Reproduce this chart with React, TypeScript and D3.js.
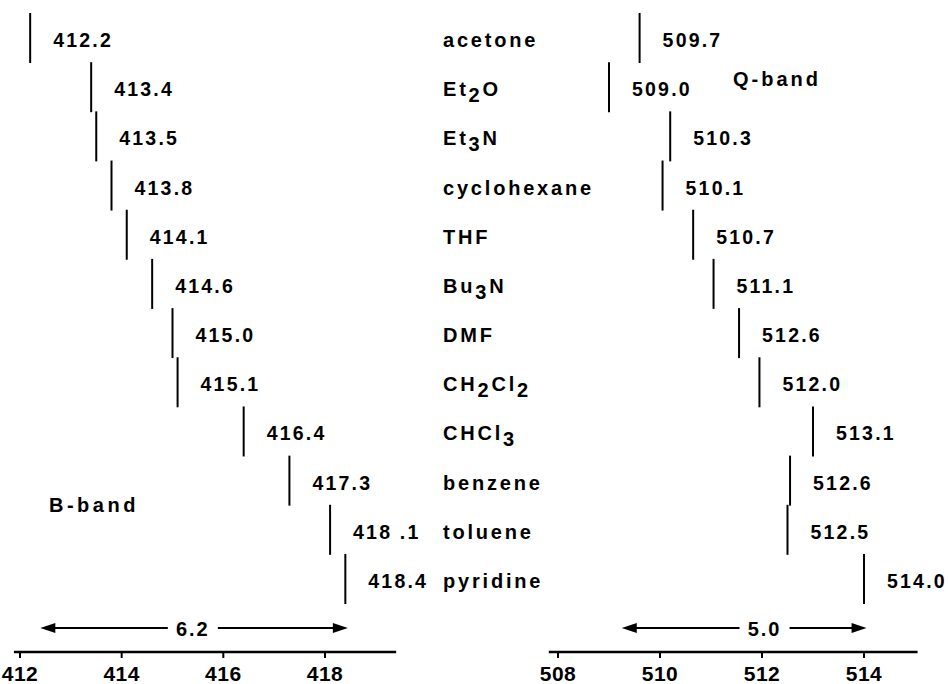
import React from "react";
import * as d3 from "d3";

const solvents = ["acetone", "Et_2O", "Et_3N", "cyclohexane", "THF", "Bu_3N", "DMF", "CH_2Cl_2", "CHCl_3", "benzene", "toluene", "pyridine"];
const bValues = [412.2, 413.4, 413.5, 413.8, 414.1, 414.6, 415.0, 415.1, 416.4, 417.3, 418.1, 418.4];
const bLabels = ["412.2", "413.4", "413.5", "413.8", "414.1", "414.6", "415.0", "415.1", "416.4", "417.3", "418 .1", "418.4"];
const qValues = [509.6, 509.0, 510.2, 510.05, 510.65, 511.05, 511.55, 511.95, 513.0, 512.55, 512.5, 514.0];
const qLabels = ["509.7", "509.0", "510.3", "510.1", "510.7", "511.1", "512.6", "512.0", "513.1", "512.6", "512.5", "514.0"];
const bTicks = [412, 414, 416, 418];
const qTicks = [508, 510, 512, 514];
const bAxisExtent = [411.88, 419.4];
const qAxisExtent = [507.82, 515.05];
const bArrow = [412.4, 418.45];
const qArrow = [509.25, 514.05];
const bArrowLabel = "6.2";
const qArrowLabel = "5.0";
const bArrowLabelAt = 415.4;
const qArrowLabelAt = 512.05;

const FONT = "'Liberation Sans', Arial, Helvetica, sans-serif";

function parseName(name: string) {
  const parts: { t: string; sub: boolean }[] = [];
  const re = /_(\d)/g;
  let last = 0;
  let m: RegExpExecArray | null;
  while ((m = re.exec(name))) {
    if (m.index > last) parts.push({ t: name.slice(last, m.index), sub: false });
    parts.push({ t: m[1], sub: true });
    last = m.index + m[0].length;
  }
  if (last < name.length) parts.push({ t: name.slice(last), sub: false });
  return parts;
}

function Arrow({ x1, x2, y, label, lx }: { x1: number; x2: number; y: number; label: string; lx: number }) {
  const hl = 15, hw = 5, gap = 25;
  return (
    <g>
      <line x1={x1 + hl - 2} x2={lx - gap} y1={y} y2={y} stroke="#000" strokeWidth={2} />
      <line x1={lx + gap} x2={x2 - hl + 2} y1={y} y2={y} stroke="#000" strokeWidth={2} />
      <path d={`M${x1},${y}L${x1 + hl},${y - hw}L${x1 + hl},${y + hw}Z`} fill="#000" />
      <path d={`M${x2},${y}L${x2 - hl},${y - hw}L${x2 - hl},${y + hw}Z`} fill="#000" />
      <text x={lx} y={y + 8} textAnchor="middle" fontSize={20} fontWeight="bold" letterSpacing={2} fontFamily={FONT}>{label}</text>
    </g>
  );
}

export default function App() {
  const W = 948, H = 684;
  const xB = d3.scaleLinear().domain([412, 418]).range([20, 325]);
  const xQ = d3.scaleLinear().domain([508, 514]).range([558, 864]);
  const y = d3.scalePoint<string>().domain(solvents).range([47, 588]);
  const axisY = 652;
  const arrowY = 628;
  const barTop = 34, barBottom = 16;
  const labelDx = 23;

  const panel = (x: d3.ScaleLinear<number, number>, values: number[], labels: string[], ticks: number[], ext: number[], arrow: number[], aLabel: string, aAt: number, key: string) => (
    <g key={key}>
      {values.map((v, i) => {
        const yy = y(solvents[i]) as number;
        return (
          <g key={i}>
            <line x1={x(v)} x2={x(v)} y1={yy - barTop} y2={yy + barBottom} stroke="#000" strokeWidth={2} />
            <text x={x(v) + labelDx} y={yy} fontSize={19.5} fontWeight="bold" letterSpacing={2.2} fontFamily={FONT}>{labels[i]}</text>
          </g>
        );
      })}
      <line x1={x(ext[0])} x2={x(ext[1])} y1={axisY} y2={axisY} stroke="#000" strokeWidth={2.5} />
      {ticks.map((t) => (
        <g key={t}>
          <line x1={x(t)} x2={x(t)} y1={axisY} y2={axisY + 6} stroke="#000" strokeWidth={2} />
          <text x={x(t)} y={axisY + 29} textAnchor="middle" fontSize={21} fontWeight="bold" letterSpacing={0.5} fontFamily={FONT}>{t}</text>
        </g>
      ))}
      <Arrow x1={x(arrow[0])} x2={x(arrow[1])} y={arrowY} label={aLabel} lx={x(aAt)} />
    </g>
  );

  return (
    <svg width={W} height={H} style={{ position: "absolute", left: 0, top: 0, background: "#fff" }}>
      <rect width={W} height={H} fill="#fff" />
      {panel(xB, bValues, bLabels, bTicks, bAxisExtent, bArrow, bArrowLabel, bArrowLabelAt, "B")}
      {panel(xQ, qValues, qLabels, qTicks, qAxisExtent, qArrow, qArrowLabel, qArrowLabelAt, "Q")}
      {solvents.map((s) => {
        const parts = parseName(s);
        return (
          <text key={s} x={443} y={y(s) as number} fontSize={20} fontWeight="bold" letterSpacing={2.8} fontFamily={FONT}>
            {parts.map((p, j) => (
              <tspan key={j} dy={p.sub ? 6 : (j > 0 && parts[j - 1].sub ? -6 : 0)}>{p.t}</tspan>
            ))}
          </text>
        );
      })}
      <text x={49} y={512} fontSize={20} fontWeight="bold" letterSpacing={3.5} fontFamily={FONT}>B-band</text>
      <text x={733} y={86} fontSize={20} fontWeight="bold" letterSpacing={3} fontFamily={FONT}>Q-band</text>
    </svg>
  );
}
